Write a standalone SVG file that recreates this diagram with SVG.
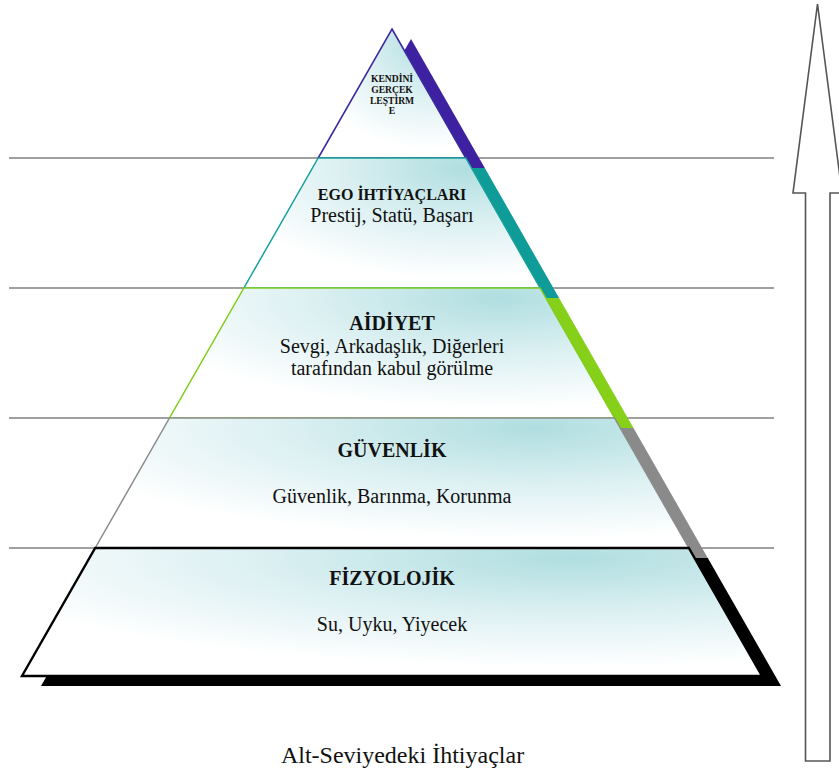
<svg xmlns="http://www.w3.org/2000/svg" xmlns:xlink="http://www.w3.org/1999/xlink" width="839" height="773" viewBox="0 0 839 773">
<style>
.hl{stroke:#808080;stroke-width:1.6;fill:none}
.front{fill:url(#fillg);stroke-linejoin:miter}
.t{fill:#111;text-anchor:middle}
.b{font-weight:bold}
.s1{fill:#3d21a1}.f1{stroke:#3b2aa0;stroke-width:1.6}
.s2{fill:#0f9b98}.f2{stroke:#16a19c;stroke-width:1.5}
.s3{fill:#86d01a}.f3{stroke:#80cc1c;stroke-width:1.5}
.s4{fill:#8a8a8a}.f4{stroke:#8c8c8c;stroke-width:1.5}
.s5{fill:#000}.f5{stroke:#000;stroke-width:2.4}
</style>
<defs>
<radialGradient id="fillg" cx="0.74" cy="0.08" r="0.85" gradientUnits="objectBoundingBox">
<stop offset="0" stop-color="#b0dee0"/>
<stop offset="0.5" stop-color="#dcf0f2"/>
<stop offset="1" stop-color="#ffffff"/>
</radialGradient>
<polygon id="p1" points="392,29 465.8,158 318.2,158"/>
<polygon id="p2" points="318.2,158 465.8,158 540.1,288 243.9,288"/>
<polygon id="p3" points="243.9,288 540.1,288 614.5,418 169.5,418"/>
<polygon id="p4" points="169.5,418 614.5,418 688.8,548 95.2,548"/>
<polygon id="p5" points="95.2,548 688.8,548 762,676 22,676"/>
</defs>
<g id="arrow">
<polygon points="817.5,4 842,193 830,193 830,761 805.5,761 805.5,193 793,193" fill="#fff" stroke="#555" stroke-width="1.6" stroke-linejoin="miter"/>
</g>
<g id="connectors">
<line class="hl" x1="9" y1="158" x2="774" y2="158"/>
<line class="hl" x1="9" y1="288" x2="774" y2="288"/>
<line class="hl" x1="9" y1="418" x2="774" y2="418"/>
<line class="hl" x1="9" y1="548" x2="774" y2="548"/>
</g>
<g font-family="'Liberation Serif', 'Times New Roman', serif">
<g id="level-kendini">
<use xlink:href="#p1" class="s1" transform="translate(19,10)"/>
<use xlink:href="#p1" class="front f1"/>
<text class="t b" font-size="9.6"><tspan x="392" y="82">KENDİNİ</tspan><tspan x="392" y="93">GERÇEK</tspan><tspan x="392" y="103.5">LEŞTİRM</tspan><tspan x="392" y="114">E</tspan></text>
</g>
<g id="level-ego">
<use xlink:href="#p2" class="s2" transform="translate(19,10)"/>
<use xlink:href="#p2" class="front f2"/>
<text class="t b" x="392" y="200" font-size="16">EGO İHTİYAÇLARI</text>
<text class="t" x="392" y="222" font-size="20">Prestij, Statü, Başarı</text>
</g>
<g id="level-aidiyet">
<use xlink:href="#p3" class="s3" transform="translate(19,10)"/>
<use xlink:href="#p3" class="front f3"/>
<text class="t b" x="392" y="329.5" font-size="20">AİDİYET</text>
<text class="t" x="392" y="352.5" font-size="20">Sevgi, Arkadaşlık, Diğerleri</text>
<text class="t" x="392" y="374.5" font-size="20">tarafından kabul görülme</text>
</g>
<g id="level-guvenlik">
<use xlink:href="#p4" class="s4" transform="translate(19,10)"/>
<use xlink:href="#p4" class="front f4"/>
<text class="t b" x="392" y="457" font-size="20">GÜVENLİK</text>
<text class="t" x="392" y="503" font-size="20">Güvenlik, Barınma, Korunma</text>
</g>
<g id="level-fizyolojik">
<use xlink:href="#p5" class="s5" transform="translate(19,10)"/>
<use xlink:href="#p5" class="front f5"/>
<text class="t b" x="392" y="584.5" font-size="20">FİZYOLOJİK</text>
<text class="t" x="392" y="631" font-size="20">Su, Uyku, Yiyecek</text>
</g>
<g id="caption">
<text class="t" x="402.5" y="763" font-size="24">Alt-Seviyedeki İhtiyaçlar</text>
</g>
</g>
</svg>
